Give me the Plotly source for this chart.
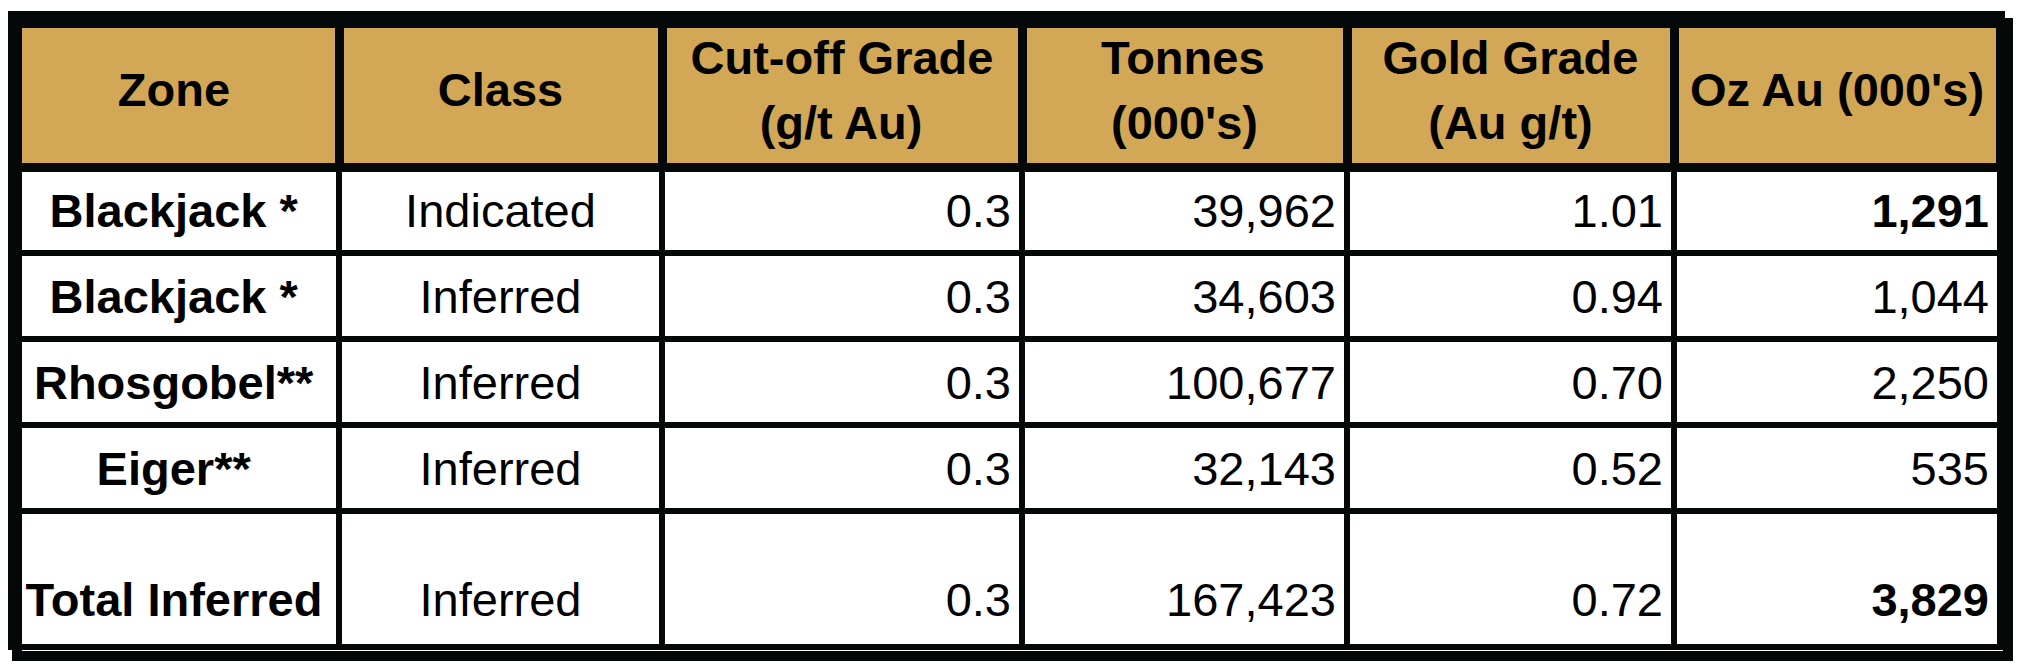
import math
import plotly.graph_objects as go

# Mineral resource table
header_lines = [["Zone"], ["Class"], ["Cut-off Grade", "(g/t Au)"], ["Tonnes", "(000's)"],
                ["Gold Grade", "(Au g/t)"], ["Oz Au (000's)"]]
zones = ["Blackjack *", "Blackjack *", "Rhosgobel**", "Eiger**", "Total Inferred"]
classes = ["Indicated", "Inferred", "Inferred", "Inferred", "Inferred"]
cutoff_grade = [0.3, 0.3, 0.3, 0.3, 0.3]
tonnes = [39962, 34603, 100677, 32143, 167423]
gold_grade = [1.01, 0.94, 0.70, 0.52, 0.72]
oz_au = [1291, 1044, 2250, 535, 3829]
bold_oz = [True, False, False, False, True]

GOLD = "#D2A856"
INK = "#050808"
FONT = "Liberation Sans"
FS = 47                 # visible text size
COL_W = [330, 323, 360, 325, 327, 326]
HEAD_H, ROW_H, LAST_H = 152, 86, 137
OFF = 8                 # plotly draws the table this far in from its domain corner
TOP, LEFT, BOTTOM = 15 - OFF, 9 - OFF, 5
RIGHT = 2024 - LEFT - sum(COL_W)

# rough Arial/Liberation bold advance widths, used to centre each header line
BOLD_W = {"C": .722, "u": .611, "t": .333, "-": .333, "o": .611, "f": .333, " ": .278,
          "G": .778, "r": .389, "a": .556, "d": .611, "e": .556, "(": .333, "g": .611,
          "/": .278, "A": .722, ")": .333, "T": .611, "n": .611, "s": .556, "0": .556,
          "'": .238, "l": .278}


def span(txt, size):
    return f"<span style='font-size:{size}px'>{txt}</span>"


def pad(px):
    # invisible padding of roughly px width
    if px < 1:
        return ""
    n = max(1, math.ceil(px / (0.278 * 50)))
    return span("&nbsp;" * n, round(px / (n * 0.278), 2))


def text_w(s):
    return sum(BOLD_W.get(ch, .556) for ch in s) * FS


def header_cell(lines):
    if len(lines) == 1:
        # spacer line pushes the label down to the middle of the header
        return span("&nbsp;", 20.2) + "<br>" + span("<b>%s</b>" % lines[0], FS)
    w1, w2 = text_w(lines[0]), text_w(lines[1])
    side = 0.278 * 56
    first = span("&nbsp;", 56) + span("<b>%s</b>" % lines[0], FS) + span("&nbsp;", 56)
    extra = (w1 + 2 * side - w2) / 2
    second = pad(extra) + span("<b>%s</b>" % lines[1], FS) + pad(extra)
    return first + "<br>" + second


def body_cell(txt, last=False, tail=""):
    if last:
        # taller total row, label near its lower part
        return span("&nbsp;", 81) + "<br>" + span(txt, FS) + tail + "<br>" + span("&nbsp;", 2)
    return span("&nbsp;", 30.5) + "<br>" + span(txt, FS) + tail


raw_cols = [
    ["<b>%s</b>" % z for z in zones],
    list(classes),
    [f"{v:.1f}" for v in cutoff_grade],
    [f"{v:,}" for v in tonnes],
    [f"{v:.2f}" for v in gold_grade],
    ["<b>%s</b>" % f"{v:,}" if b else f"{v:,}" for v, b in zip(oz_au, bold_oz)],
]
aligns = ["center", "center", "right", "right", "right", "right"]
n_rows = len(zones)
cols = []
for c, al in zip(raw_cols, aligns):
    tail = pad(3) if al == "right" else ""
    cols.append([body_cell(t, i == n_rows - 1, tail) for i, t in enumerate(c)])

fig = go.Figure(go.Table(
    columnwidth=COL_W,
    header=dict(
        values=[header_cell(h) for h in header_lines],
        fill_color=GOLD,
        line=dict(color=INK, width=9),
        align="center",
        font=dict(family=FONT, size=50, color="black"),
        height=HEAD_H,
    ),
    cells=dict(
        values=cols,
        fill_color="white",
        line=dict(color=INK, width=6),
        align=aligns,
        font=dict(family=FONT, size=18.1, color="black"),
        height=ROW_H,
    ),
))

# heavier outer frame round the table
plot_w = 2024 - LEFT - RIGHT
plot_h = 664 - TOP - BOTTOM
table_h = HEAD_H + ROW_H * (n_rows - 1) + LAST_H
fig.add_shape(type="rect", xref="paper", yref="paper",
              x0=OFF / plot_w, x1=(OFF + sum(COL_W)) / plot_w,
              y0=1 - (OFF + table_h) / plot_h, y1=1 - OFF / plot_h,
              line=dict(color=INK, width=10))

fig.update_layout(
    width=2024, height=664,
    margin=dict(l=LEFT, r=RIGHT, t=TOP, b=BOTTOM),
    paper_bgcolor="white",
)

fig.write_html("out.html")
